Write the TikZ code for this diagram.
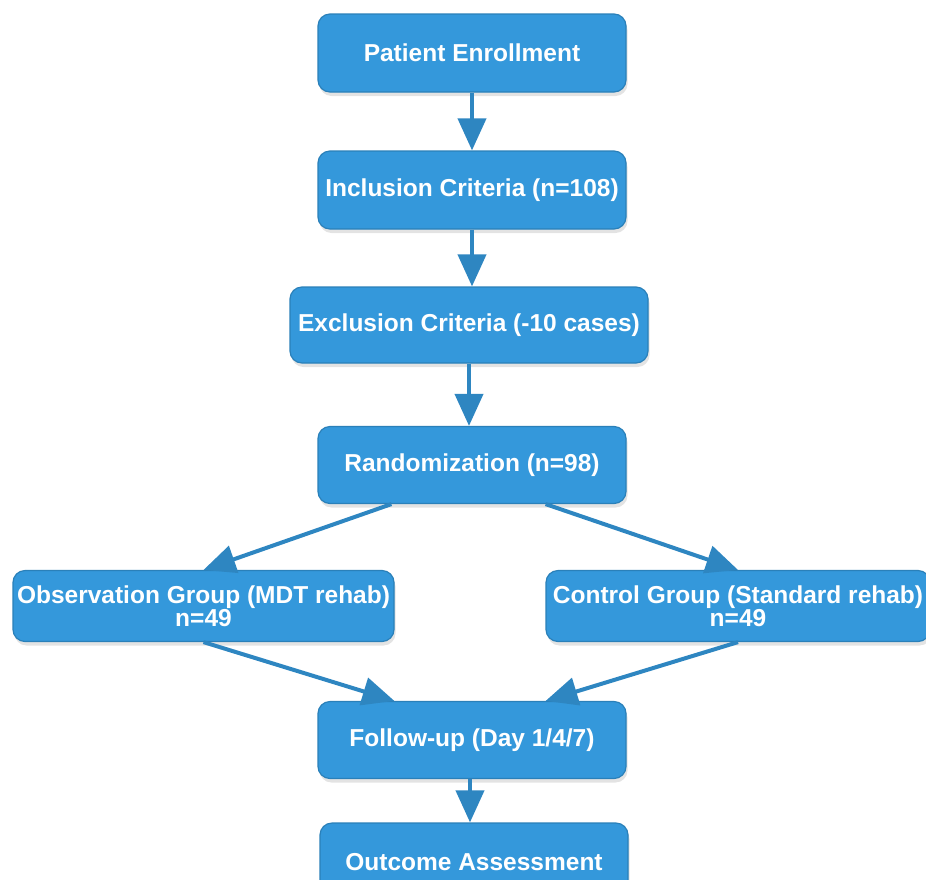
\documentclass[tikz,border=0pt]{standalone}
\usepackage{fontspec}
\setmainfont{Liberation Sans}
\usetikzlibrary{arrows.meta,shadows}
\definecolor{boxblue}{HTML}{3498DB}
\definecolor{boxedge}{HTML}{2A80B9}
\definecolor{flowblue}{HTML}{2E86C1}

\begin{document}
\begin{tikzpicture}[x=1pt,y=-1pt]
\tikzstyle{box}=[draw=boxedge, line width=1.2pt, fill=boxblue, rounded corners=12pt, text=white, align=center, inner sep=0pt, font=\bfseries\fontsize{24.5}{23}\selectfont, drop shadow={opacity=0.22, shadow xshift=1.5pt, shadow yshift=-4pt}]
\tikzstyle{flow}=[flowblue, line width=4pt, -{Triangle[width=28pt,length=32pt]}]
\useasboundingbox (0,0) rectangle (926,879);
\node [box, minimum width=308pt, minimum height=78pt] (enrol) at (472,53) {Patient Enrollment};
\node [box, minimum width=308pt, minimum height=78pt] (incl) at (472,190) {Inclusion Criteria (n=108)};
\node [box, minimum width=358pt, minimum height=76pt] (excl) at (469,325) {Exclusion Criteria (-10 cases)};
\node [box, minimum width=308pt, minimum height=77pt] (rand) at (472,465) {Randomization (n=98)};
\node [box, minimum width=381pt, minimum height=71pt] (obs) at (203.5,606) {Observation Group (MDT rehab)\\n=49};
\node [box, minimum width=384pt, minimum height=71pt] (ctrl) at (738,606) {Control Group (Standard rehab)\\n=49};
\node [box, minimum width=308pt, minimum height=77pt] (follow) at (472,740) {Follow-up (Day 1/4/7)};
\node [box, minimum width=308pt, minimum height=78pt] (outc) at (474,862) {Outcome Assessment};
\draw [flow] (enrol) -- (incl);
\draw [flow] (incl) -- (excl.north -| incl);
\draw [flow] (excl) -- (rand.north -| excl);
\draw [flow] ([xshift=74pt]rand.south west) -- (obs.north);
\draw [flow] ([xshift=-81pt]rand.south east) -- (ctrl.north);
\draw [flow] (obs.south) -- ([xshift=77pt]follow.north west);
\draw [flow] (ctrl.south) -- ([xshift=-81pt]follow.north east);
\draw [flow] (follow.south -| 470,0) -- (outc.north -| 470,0);
\end{tikzpicture}
\end{document}
